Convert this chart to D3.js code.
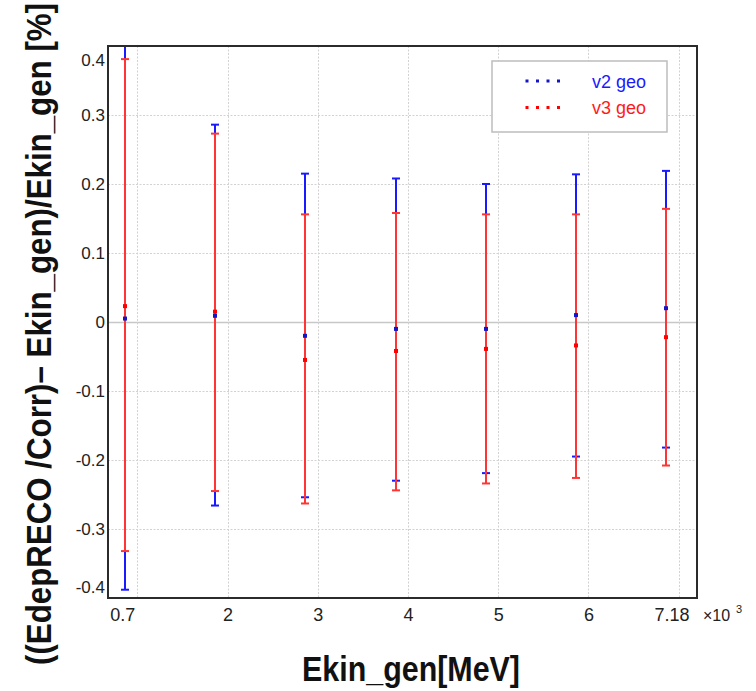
<!DOCTYPE html>
<html>
<head>
<meta charset="utf-8">
<script src="https://cdn.jsdelivr.net/npm/d3@7"></script>
<style>
    body { margin: 0; background: #fff; }
    #chart { width: 756px; height: 691px; }
</style>
</head>
<body>
<div id="chart"></div>
<script>
// Energy resolution chart: relative error of reconstructed Ekin for two geometries

// Beam energies (x categories, in units of 10^3 MeV)
const energyLabels = ["0.7", "2", "3", "4", "5", "6", "7.18"];

// v2 geometry: mean and error bar limits [%]
const v2Mean = [0.005, 0.009, -0.020, -0.010, -0.010, 0.010, 0.020];
const v2Low  = [-0.388, -0.266, -0.254, -0.230, -0.219, -0.195, -0.182];
const v2High = [0.400, 0.286, 0.215, 0.208, 0.200, 0.214, 0.219];

// v3 geometry: mean and error bar limits [%]
const v3Mean = [0.023, 0.015, -0.055, -0.042, -0.039, -0.034, -0.022];
const v3Low  = [-0.332, -0.245, -0.263, -0.244, -0.234, -0.226, -0.208];
const v3High = [0.381, 0.273, 0.156, 0.158, 0.156, 0.156, 0.164];

// Y axis ticks and their labels
const yTicks = [-0.4, -0.3, -0.2, -0.1, 0, 0.1, 0.2, 0.3, 0.4];
const yTickLabels = ["-0.4", "-0.3", "-0.2", "-0.1", "0", "0.1", "0.2", "0.3", "0.4"];

const seriesNames = ["v2 geo", "v3 geo"];

const containerWidth = 756;
const containerHeight = 691;
const margin = {top: 46, right: 59, bottom: 93, left: 108};
const width = containerWidth - margin.left - margin.right;
const height = containerHeight - margin.top - margin.bottom;

const svg = d3.select("#chart")
    .append("svg")
    .attr("width", containerWidth)
    .attr("height", containerHeight)
    .append("g")
    .attr("transform", `translate(${margin.left},${margin.top})`);

// Points sit at their index; grid lines/labels are slightly to the right
const gridShift = 0.137;
const x = d3.scaleLinear()
    .domain([-0.188, 6.341])
    .range([0, width]);

const y = d3.scaleLinear()
    .domain([-0.4, 0.4])
    .range([height, 0]);

const idx = energyLabels.map((d, i) => i);
const fontFamily = "'Liberation Sans', Arial, sans-serif";

// Horizontal grid lines (dotted, zero line solid)
svg.selectAll(".hgrid")
    .data(yTicks.filter(d => Math.abs(d) < 0.39))
    .enter()
    .append("line")
    .attr("class", "hgrid")
    .attr("x1", 0)
    .attr("x2", width)
    .attr("y1", d => Math.round(y(d)) + 0.5)
    .attr("y2", d => Math.round(y(d)) + 0.5)
    .attr("stroke", d => d === 0 ? "#c8c8c8" : "#d2d2d2")
    .attr("stroke-width", d => d === 0 ? 1.5 : 1)
    .attr("stroke-dasharray", d => d === 0 ? null : "2,1.5");

// Vertical grid lines
svg.selectAll(".vgrid")
    .data(idx)
    .enter()
    .append("line")
    .attr("class", "vgrid")
    .attr("x1", d => Math.round(x(d + gridShift)) + 0.5)
    .attr("x2", d => Math.round(x(d + gridShift)) + 0.5)
    .attr("y1", 0)
    .attr("y2", height)
    .attr("stroke", "#d2d2d2")
    .attr("stroke-dasharray", "2,1.5");

// Build the two series
const series = [
    {name: seriesNames[0], color: "#1a1aff", marker: "#1414c8", text: "#1a1aff", mean: v2Mean, low: v2Low, high: v2High},
    {name: seriesNames[1], color: "#ff3535", marker: "#ff0000", text: "#ff1a1a", mean: v3Mean, low: v3Low, high: v3High}
];

const capHalf = 4;
const px = i => Math.round(x(i));

// Error bars (blue first, red on top)
series.forEach(s => {
    const pts = idx.map(i => ({i, mean: s.mean[i], low: s.low[i], high: s.high[i]}));
    const g = svg.append("g").attr("class", "errbars");

    g.selectAll(".stem")
        .data(pts)
        .enter()
        .append("line")
        .attr("x1", d => px(d.i))
        .attr("x2", d => px(d.i))
        .attr("y1", d => y(d.low))
        .attr("y2", d => y(d.high))
        .attr("stroke", s.color)
        .attr("stroke-width", 2);

    ["low", "high"].forEach(key => {
        g.selectAll(".cap-" + key)
            .data(pts)
            .enter()
            .append("line")
            .attr("x1", d => px(d.i) - capHalf)
            .attr("x2", d => px(d.i) + capHalf)
            .attr("y1", d => y(d[key]))
            .attr("y2", d => y(d[key]))
            .attr("stroke", s.color)
            .attr("stroke-width", 2);
    });
});

// Markers at the mean values
series.forEach(s => {
    svg.append("g")
        .selectAll("rect")
        .data(idx)
        .enter()
        .append("rect")
        .attr("x", i => px(i) - 2)
        .attr("y", i => y(s.mean[i]) - 2)
        .attr("width", 4)
        .attr("height", 4)
        .attr("fill", s.marker);
});

// Frame
svg.append("rect")
    .attr("x", 0)
    .attr("y", 0)
    .attr("width", width)
    .attr("height", height)
    .attr("fill", "none")
    .attr("stroke", "#2b2b2b")
    .attr("stroke-width", 2);

// X axis labels
const xAxis = d3.axisBottom(x)
    .tickValues(idx.map(i => i + gridShift))
    .tickFormat((d, i) => energyLabels[i])
    .tickSize(0)
    .tickPadding(10);

const xAxisG = svg.append("g")
    .attr("transform", `translate(0, ${height})`)
    .call(xAxis);
xAxisG.select(".domain").remove();
xAxisG.selectAll("text")
    .style("font-family", fontFamily)
    .style("font-size", "18px")
    .attr("fill", "#222")
    .attr("dx", (d, i) => i === 0 ? -15 : (i === energyLabels.length - 1 ? -7 : 0));

// x10^3 multiplier
svg.append("text")
    .attr("x", width + 6)
    .attr("y", height + 23)
    .style("font-family", fontFamily)
    .style("font-size", "16px")
    .attr("fill", "#222")
    .text("×10");
svg.append("text")
    .attr("x", width + 39)
    .attr("y", height + 15)
    .style("font-family", fontFamily)
    .style("font-size", "11px")
    .attr("fill", "#222")
    .text("3");

// Y axis labels
const yAxis = d3.axisLeft(y)
    .tickValues(yTicks)
    .tickFormat((d, i) => yTickLabels[i])
    .tickSize(0)
    .tickPadding(3);

const yAxisG = svg.append("g").call(yAxis);
yAxisG.select(".domain").remove();
yAxisG.selectAll("text")
    .style("font-family", fontFamily)
    .style("font-size", "17px")
    .attr("fill", "#222")
    .attr("dy", d => d === 0.4 ? "1.15em" : (d === -0.4 ? "-0.33em" : "0.33em"));

// Legend
const legend = svg.append("g")
    .attr("transform", `translate(${492 - margin.left}, ${61 - margin.top})`);

legend.append("rect")
    .attr("width", 175)
    .attr("height", 71)
    .attr("fill", "#fff")
    .attr("stroke", "#bdbdbd")
    .attr("stroke-width", 1.5);

series.forEach((s, i) => {
    const ly = 20 + i * 26.5;
    legend.append("line")
        .attr("x1", 33.5)
        .attr("x2", 70)
        .attr("y1", ly)
        .attr("y2", ly)
        .attr("stroke", s.marker)
        .attr("stroke-width", 3)
        .attr("stroke-dasharray", "3,7.5");
    legend.append("text")
        .attr("x", 100)
        .attr("y", ly + 6.5)
        .style("font-family", fontFamily)
        .style("font-size", "18px")
        .attr("fill", s.text)
        .text(s.name);
});

// X-axis title
svg.append("text")
    .attr("x", 411 - margin.left)
    .attr("y", 681 - margin.top)
    .attr("text-anchor", "middle")
    .attr("textLength", 218)
    .attr("lengthAdjust", "spacingAndGlyphs")
    .style("font-family", fontFamily)
    .style("font-weight", "bold")
    .style("font-size", "35px")
    .attr("fill", "#111")
    .text("Ekin_gen[MeV]");

// Y-axis title (slightly stretched glyph height to match the reference)
svg.append("text")
    .attr("transform", `translate(${51 - margin.left}, ${334 - margin.top}) rotate(-90) scale(1, 1.12)`)
    .attr("text-anchor", "middle")
    .attr("textLength", 662)
    .attr("lengthAdjust", "spacingAndGlyphs")
    .style("font-family", fontFamily)
    .style("font-weight", "bold")
    .style("font-size", "31px")
    .attr("fill", "#111")
    .text("((EdepRECO /Corr)– Ekin_gen)/Ekin_gen [%]");
</script>
</body>
</html>
